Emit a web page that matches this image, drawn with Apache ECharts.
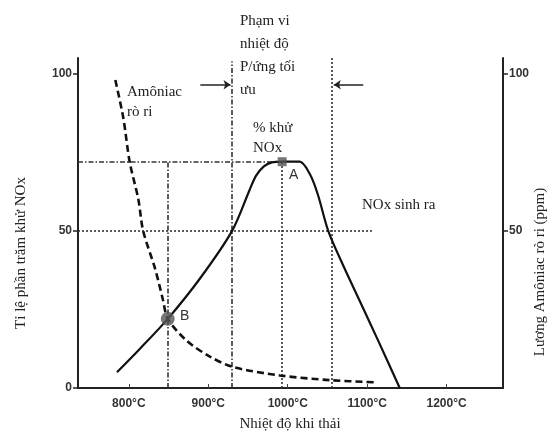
<!DOCTYPE html>
<html><head><meta charset="utf-8">
<script src="https://cdn.jsdelivr.net/npm/echarts@6/dist/echarts.min.js"></script>
<style>html,body{margin:0;padding:0;background:#fff}#c{width:550px;height:436px}</style>
</head><body><div id="c"></div>
<script>
// ---- data ----
const xTickTemps = [800, 900, 1000, 1100, 1200];
const xTickLabels = ['800°C', '900°C', '1000°C', '1100°C', '1200°C'];
const leftTicks = [0, 50, 100];
const rightTicks = [50, 100];
const noxTemps = [785, 814, 849, 890, 930, 952, 960, 970, 980, 993, 1015, 1028, 1038, 1051, 1068, 1091, 1114, 1141];
const noxReduction = [5, 12.5, 22, 35, 50, 63, 67.5, 70.5, 71.8, 72, 72, 68, 61.5, 50, 40, 27.5, 15, 0];
const nh3Temps = [783, 793, 801, 812, 818, 833, 843, 849, 873, 902, 931, 990, 1053, 1112];
const nh3Slip = [98, 86, 72, 60, 50, 38, 28, 22, 15, 10, 6.7, 4, 2.5, 1.8];
const pointA = [993, 72];
const pointB = [849, 22];
const optimalRange = [930, 1056];
const fiftyLineEnd = 1106;
const arrowLevel = 96.5;

const chart = echarts.init(document.getElementById('c'));
const serif = 'Liberation Serif, DejaVu Serif, serif';
const axisFont = {fontFamily: 'Liberation Sans Narrow, Liberation Sans, sans-serif', fontWeight: 'bold', fontSize: 12, color: '#333'};
const ink = '#222';
const dotted = {color: '#333', width: 1.6, type: [2, 2]};
const dashDot = {color: '#333', width: 1.6, type: [5, 2, 1.5, 2]};
const xMin = 736, yMax = 105;

chart.setOption({
  animation: false,
  grid: {left: 78, right: 47, top: 58, bottom: 48, containLabel: false},
  xAxis: {
    type: 'value', min: xMin, max: 1271,
    axisLine: {lineStyle: {color: ink, width: 2}},
    axisTick: {show: true, inside: true, length: 4, customValues: xTickTemps, lineStyle: {color: '#444'}},
    axisLabel: Object.assign({customValues: xTickTemps, margin: 10,
      formatter: v => xTickLabels[xTickTemps.indexOf(v)] || ''}, axisFont),
    splitLine: {show: false}
  },
  yAxis: [
    {type: 'value', min: 0, max: yMax, position: 'left',
      axisLine: {show: true, lineStyle: {color: ink, width: 2}},
      axisTick: {show: true, length: 5, customValues: leftTicks, lineStyle: {color: ink, width: 1.5}},
      axisLabel: Object.assign({customValues: leftTicks, margin: 6}, axisFont),
      splitLine: {show: false}},
    {type: 'value', min: 0, max: yMax, position: 'right',
      axisLine: {show: true, lineStyle: {color: ink, width: 2}},
      axisTick: {show: true, length: 5, customValues: rightTicks, lineStyle: {color: ink, width: 1.5}},
      axisLabel: Object.assign({customValues: rightTicks, margin: 6}, axisFont),
      splitLine: {show: false}}
  ],
  series: [
    {type: 'line', name: 'guides', data: [], silent: true,
      markLine: {silent: true, symbol: ['none', 'none'], label: {show: false},
        data: [
          [{coord: [pointB[0], 0], lineStyle: dashDot}, {coord: [pointB[0], pointA[1]]}],
          [{coord: [optimalRange[0], 0], lineStyle: dashDot}, {coord: [optimalRange[0], yMax - 1]}],
          [{coord: [pointA[0], 0], lineStyle: dotted}, {coord: [pointA[0], pointA[1]]}],
          [{coord: [optimalRange[1], 0], lineStyle: dotted}, {coord: [optimalRange[1], yMax]}],
          [{coord: [xMin, pointA[1]], lineStyle: dashDot}, {coord: [pointA[0], pointA[1]]}],
          [{coord: [xMin, 50], lineStyle: dotted}, {coord: [fiftyLineEnd, 50]}],
          [{coord: [890, arrowLevel], symbol: 'none', lineStyle: {color: ink, width: 1.5, type: 'solid'}}, {coord: [optimalRange[0] - 2, arrowLevel], symbol: 'arrow', symbolSize: 7}],
          [{coord: [1095, arrowLevel], symbol: 'none', lineStyle: {color: ink, width: 1.5, type: 'solid'}}, {coord: [optimalRange[1] + 2, arrowLevel], symbol: 'arrow', symbolSize: 7}]
        ]}
    },
    {type: 'line', name: '% khử NOx', data: noxTemps.map((t, i) => [t, noxReduction[i]]),
      smooth: 0.3, showSymbol: false, lineStyle: {color: '#111', width: 2.2}, z: 5},
    {type: 'line', name: 'Amôniac rò ri', yAxisIndex: 1, data: nh3Temps.map((t, i) => [t, nh3Slip[i]]),
      smooth: 0.3, showSymbol: false, lineStyle: {color: '#111', width: 2.6, type: [7, 4]}, z: 5},
    {type: 'scatter', data: [pointA], symbol: 'rect', symbolSize: 9, itemStyle: {color: '#555'}, z: 6},
    {type: 'scatter', data: [pointB], symbol: 'circle', symbolSize: 14, itemStyle: {color: '#555'}, z: 6}
  ],
  graphic: [
    {type: 'text', left: 240, top: 10, style: {text: 'Phạm vi\nnhiệt độ\nP/ứng tối\nưu', font: '15px ' + serif, fill: ink, lineHeight: 23}},
    {type: 'text', left: 127, top: 82, style: {text: 'Amôniac\nrò ri', font: '15px ' + serif, fill: ink, lineHeight: 20}},
    {type: 'text', left: 253, top: 118, style: {text: '% khử\nNOx', font: '15px ' + serif, fill: ink, lineHeight: 20}},
    {type: 'text', left: 362, top: 198, style: {text: 'NOx sinh ra', font: '15px ' + serif, fill: ink}},
    {type: 'text', left: 289, top: 168, style: {text: 'A', font: '14px Liberation Sans, sans-serif', fill: '#333'}},
    {type: 'text', left: 180, top: 309, style: {text: 'B', font: '14px Liberation Sans, sans-serif', fill: '#333'}},
    {type: 'text', x: 290, y: 424, style: {text: 'Nhiệt độ khi thải', font: '15px ' + serif, fill: ink, align: 'center', verticalAlign: 'middle'}},
    {type: 'text', x: 21, y: 253, rotation: Math.PI / 2, style: {text: 'Tỉ lệ phần trăm khử NOx', font: '15px ' + serif, fill: ink, align: 'center', verticalAlign: 'middle'}},
    {type: 'text', x: 540, y: 272, rotation: Math.PI / 2, style: {text: 'Lương Amôniac rò ri (ppm)', font: '15px ' + serif, fill: ink, align: 'center', verticalAlign: 'middle'}}
  ]
});
</script></body></html>
